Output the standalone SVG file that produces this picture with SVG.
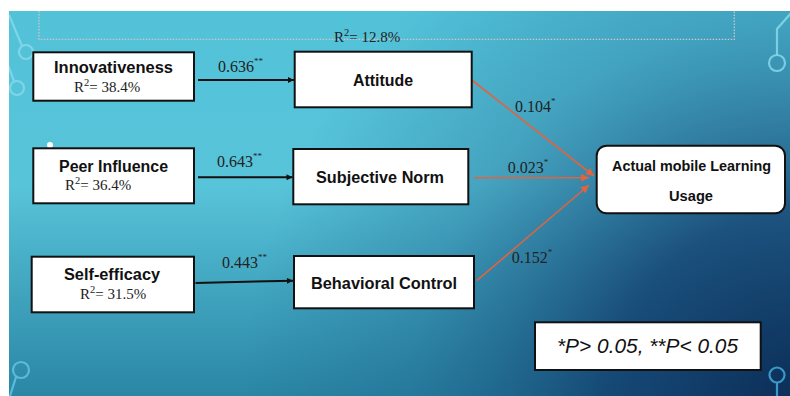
<svg xmlns="http://www.w3.org/2000/svg" width="790" height="396" viewBox="0 0 790 396">
<defs>
<linearGradient id="bgv" x1="0" y1="11" x2="0" y2="396" gradientUnits="userSpaceOnUse">
<stop offset="0" stop-color="#52c2d9"/>
<stop offset="0.45" stop-color="#58c4da"/>
<stop offset="1" stop-color="#2a86a5"/>
</linearGradient>
<radialGradient id="bgr" cx="800" cy="410" r="560" gradientUnits="userSpaceOnUse">
<stop offset="0" stop-color="#0b2d56" stop-opacity="1"/>
<stop offset="0.35" stop-color="#10396a" stop-opacity="0.8"/>
<stop offset="0.7" stop-color="#1a5a85" stop-opacity="0.3"/>
<stop offset="1" stop-color="#1a5a85" stop-opacity="0"/>
</radialGradient>
<clipPath id="bgclip"><rect x="9" y="11" width="781" height="385"/></clipPath>
<marker id="ab" viewBox="0 0 10 10" refX="10" refY="5" markerWidth="7" markerHeight="6" markerUnits="userSpaceOnUse" orient="auto">
<path d="M0,0 L10,5 L0,10 z" fill="#111"/>
</marker>
<marker id="ao" viewBox="0 0 10 10" refX="10" refY="5" markerWidth="11" markerHeight="8" markerUnits="userSpaceOnUse" orient="auto">
<path d="M0,0 L10,5 L0,10 z" fill="#e2633f"/>
</marker>
<style>
.box{fill:#fff;stroke:#111;stroke-width:2}
.t{font-family:"Liberation Sans",Arial,sans-serif;font-weight:bold;font-size:16px;fill:#111;text-anchor:middle}
.s{font-family:"Liberation Serif","Times New Roman",serif;font-size:15px;fill:#222}
.n{font-family:"Liberation Serif","Times New Roman",serif;font-size:16px;fill:#222}
.sup{font-size:9px}
.sup2{font-size:10.5px}
.deco{fill:none;stroke:#86d8ea;stroke-width:2.2;opacity:0.85}
.decod{fill:none;stroke:#3c98c8;stroke-width:2.2}
.blk{stroke:#111;stroke-width:2;fill:none}
.org{stroke:#e2633f;stroke-width:1.6;fill:none}
</style>
</defs>
<rect x="0" y="0" width="790" height="396" fill="#fff"/>
<g id="background" clip-path="url(#bgclip)">
<rect x="9" y="11" width="781" height="385" fill="url(#bgv)"/>
<rect x="9" y="11" width="781" height="385" fill="url(#bgr)"/>
<circle class="deco" cx="27" cy="3" r="7"/>
<path class="deco" d="M9,15 L22,46"/>
<circle class="deco" cx="26" cy="52" r="7"/>
<path class="deco" d="M8,65 L14,81"/>
<circle class="deco" cx="17" cy="88" r="7"/>
<circle class="deco" cx="21" cy="370" r="8" style="stroke:#62c4e4"/>
<path class="deco" d="M16,377 L10,396" style="stroke:#62c4e4"/>
<path class="deco" d="M792,12 L777,29 L777,55"/>
<circle class="deco" cx="777" cy="63" r="8"/>
<circle class="decod" cx="777" cy="375" r="7.5"/>
<path class="decod" d="M777,382.5 L777,396"/>
<circle cx="50" cy="145" r="3" fill="#fff"/>
<path d="M39,11 L39,39.3 L734.3,39.3 L734.3,11" fill="none" stroke="#c8c8c8" stroke-width="1.3" stroke-dasharray="1.5,1.5"/>
</g>
<text class="s" x="334" y="42">R<tspan class="sup2" dy="-6">2</tspan><tspan dy="6">= 12.8%</tspan></text>
<g id="connectors">
<line class="blk" x1="198" y1="80" x2="294" y2="80" marker-end="url(#ab)"/>
<line class="blk" x1="198" y1="177.3" x2="292.5" y2="177.3" marker-end="url(#ab)"/>
<line class="blk" x1="195.5" y1="283" x2="293" y2="280.7" marker-end="url(#ab)"/>
<line class="org" x1="471.7" y1="80" x2="594" y2="176" marker-end="url(#ao)"/>
<line class="org" x1="474" y1="177.7" x2="589" y2="177.7" marker-end="url(#ao)"/>
<line class="org" x1="476.7" y1="280.7" x2="589" y2="185" marker-end="url(#ao)"/>
<text class="n" x="218" y="72">0.636<tspan class="sup" dy="-8">**</tspan></text>
<text class="n" x="217" y="167.3">0.643<tspan class="sup" dy="-8">**</tspan></text>
<text class="n" x="222" y="268.3">0.443<tspan class="sup" dy="-8">**</tspan></text>
<text class="n" x="515" y="112.3">0.104<tspan class="sup" dy="-8">*</tspan></text>
<text class="n" x="507.7" y="173.3">0.023<tspan class="sup" dy="-8">*</tspan></text>
<text class="n" x="511.7" y="263.3">0.152<tspan class="sup" dy="-8">*</tspan></text>
</g>
<g id="innovativeness">
<rect class="box" x="33.3" y="52.3" width="160.7" height="48.4"/>
<text class="t" x="113.5" y="73" textLength="119" lengthAdjust="spacingAndGlyphs">Innovativeness</text>
<text class="s" x="74" y="91.5">R<tspan class="sup2" dy="-6">2</tspan><tspan dy="6">= 38.4%</tspan></text>
</g>
<g id="attitude">
<rect class="box" x="294.7" y="51.7" width="177" height="55.6"/>
<text class="t" x="383" y="86" textLength="60" lengthAdjust="spacingAndGlyphs">Attitude</text>
</g>
<g id="peer-influence">
<rect class="box" x="33.3" y="148.3" width="160.7" height="55"/>
<text class="t" x="113.5" y="171.7" textLength="109" lengthAdjust="spacingAndGlyphs">Peer Influence</text>
<text class="s" x="65" y="190">R<tspan class="sup2" dy="-6">2</tspan><tspan dy="6">= 36.4%</tspan></text>
</g>
<g id="subjective-norm">
<rect class="box" x="293.3" y="149" width="175" height="55.3"/>
<text class="t" x="380" y="183" textLength="128" lengthAdjust="spacingAndGlyphs">Subjective Norm</text>
</g>
<g id="self-efficacy">
<rect class="box" x="31.7" y="256.7" width="162.3" height="55.6"/>
<text class="t" x="112" y="280" textLength="96" lengthAdjust="spacingAndGlyphs">Self-efficacy</text>
<text class="s" x="80" y="298.5">R<tspan class="sup2" dy="-6">2</tspan><tspan dy="6">= 31.5%</tspan></text>
</g>
<g id="behavioral-control">
<rect class="box" x="294" y="256" width="180" height="52.3"/>
<text class="t" x="384" y="289" textLength="146" lengthAdjust="spacingAndGlyphs">Behavioral Control</text>
</g>
<g id="actual-usage">
<rect class="box" x="596.7" y="145.7" width="188.3" height="67.6" rx="10" ry="10"/>
<text class="t" x="691.5" y="170.5" style="font-size:14.5px" textLength="159" lengthAdjust="spacingAndGlyphs">Actual mobile Learning</text>
<text class="t" x="691" y="200.5" style="font-size:14.5px" textLength="44" lengthAdjust="spacingAndGlyphs">Usage</text>
</g>
<g id="legend">
<rect class="box" x="535" y="322.3" width="225.7" height="47.7"/>
<text x="647.5" y="352.7" text-anchor="middle" font-family="'Liberation Sans',Arial,sans-serif" font-style="italic" font-size="20" fill="#111" textLength="181" lengthAdjust="spacingAndGlyphs">*P&gt; 0.05, **P&lt; 0.05</text>
</g>
</svg>
